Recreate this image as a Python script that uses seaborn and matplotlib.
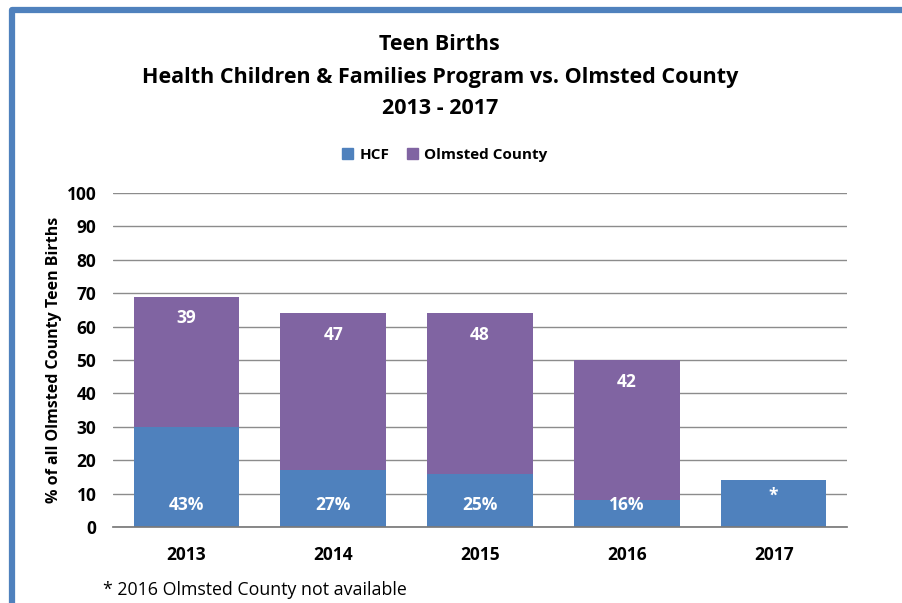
import pandas as pd
import matplotlib.pyplot as plt
import seaborn as sns
from matplotlib.lines import Line2D
from matplotlib.patches import Patch

# Data
years = ['2013', '2014', '2015', '2016', '2017']
hcf = [30, 17, 16, 8, 14]
olmsted = [39, 47, 48, 42, 0]
hcf_labels = ['43%', '27%', '25%', '16%', '*']
olmsted_labels = ['39', '47', '48', '42', '']

blue = '#4F81BD'
purple = '#8064A2'

sns.set_theme(style='white')
plt.rcParams['font.family'] = ['Open Sans', 'DejaVu Sans']
plt.rcParams['text.color'] = 'black'
plt.rcParams['axes.labelcolor'] = 'black'
plt.rcParams['xtick.color'] = 'black'
plt.rcParams['ytick.color'] = 'black'

df = pd.DataFrame({'year': years, 'hcf': hcf, 'olmsted': olmsted})
df['total'] = df['hcf'] + df['olmsted']

fig = plt.figure(figsize=(9.03, 6.03), dpi=100)
ax = fig.add_axes([113 / 903, 1 - 527 / 603, 734 / 903, 334 / 603])

sns.barplot(data=df, x='year', y='total', color=purple, saturation=1, width=0.72,
            linewidth=0, ax=ax)
sns.barplot(data=df, x='year', y='hcf', color=blue, saturation=1, width=0.72,
            linewidth=0, ax=ax)

for i in range(len(years)):
    y_hcf = 9.5 if hcf_labels[i] == '*' else 6.5
    ax.text(i, y_hcf, hcf_labels[i], ha='center', va='center', color='white',
            fontsize=12.5, fontweight='bold')
    if olmsted_labels[i]:
        ax.text(i, df['total'][i] - 6.5, olmsted_labels[i], ha='center', va='center',
                color='white', fontsize=12.5, fontweight='bold')

ax.set_ylim(0, 100)
ax.set_xlim(-0.5, 4.5)
ax.set_yticks(range(0, 101, 10))
ax.yaxis.grid(True, color='#8c8c8c', linewidth=1)
ax.set_axisbelow(True)
for s in ['top', 'right', 'left']:
    ax.spines[s].set_visible(False)
ax.spines['bottom'].set_color('#7a7a7a')
ax.tick_params(axis='both', length=0, labelsize=12.5)
ax.tick_params(axis='x', pad=14)
ax.tick_params(axis='y', pad=12)
for lbl in ax.get_xticklabels() + ax.get_yticklabels():
    lbl.set_fontweight('bold')
ax.set_xlabel('')
ax.set_ylabel('% of all Olmsted County Teen Births', fontsize=11.5, fontweight='bold',
              labelpad=3)

title_kw = dict(ha='center', va='center', fontsize=15.5, fontweight='bold')
fig.text(0.487, 1 - 45 / 603, 'Teen Births', **title_kw)
fig.text(0.487, 1 - 77 / 603, 'Health Children & Families Program vs. Olmsted County', **title_kw)
fig.text(0.487, 1 - 108 / 603, '2013 - 2017', **title_kw)

handles = [Patch(color=blue, label='HCF'), Patch(color=purple, label='Olmsted County')]
fig.legend(handles=handles, loc='center', bbox_to_anchor=(445 / 903, 1 - 155 / 603), ncol=2,
           frameon=False, handlelength=0.7, handleheight=0.7, columnspacing=1.2,
           handletextpad=0.4, prop={'size': 11, 'weight': 'bold'})

fig.text(103 / 903, 1 - 590 / 603, '* 2016 Olmsted County not available', ha='left', va='center',
         fontsize=12.8)

# blue frame around the chart
fig.add_artist(Line2D([12 / 903, 12 / 903, 1.0], [0, 1 - 10 / 603, 1 - 10 / 603],
                      transform=fig.transFigure, color=blue, linewidth=4.5,
                      solid_joinstyle='round'))

fig.savefig('out.png', dpi=100)
